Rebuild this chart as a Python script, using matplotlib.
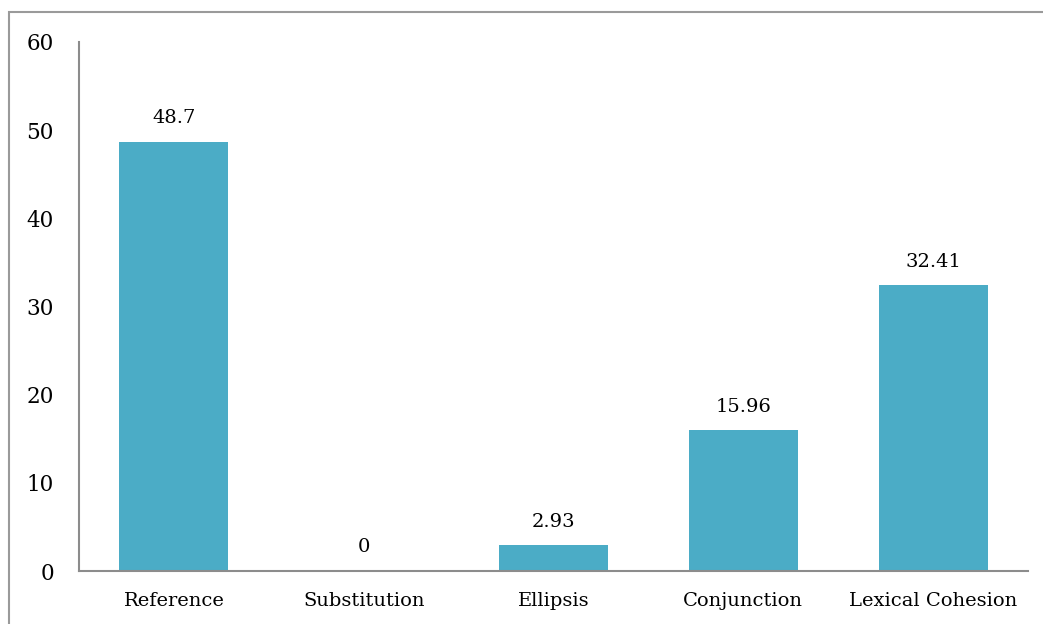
import matplotlib
matplotlib.use("Agg")
import matplotlib.pyplot as plt
from matplotlib.patches import Rectangle

categories = ["Reference", "Substitution", "Ellipsis", "Conjunction", "Lexical Cohesion"]
values = [48.7, 0, 2.93, 15.96, 32.41]
value_labels = ["48.7", "0", "2.93", "15.96", "32.41"]
yticks = [0, 10, 20, 30, 40, 50, 60]

W, H = 1043, 624
fig = plt.figure(figsize=(W / 100, H / 100), dpi=100)
plt.rcParams['font.family'] = ['DejaVu Serif']

# outer frame
fig.patches.append(Rectangle((9 / W, -0.1), 1.2, (H - 12) / H + 0.1, transform=fig.transFigure,
                             fill=False, edgecolor="#9a9a9a", linewidth=1.5))

ax = fig.add_axes([79 / W, (H - 571) / H, (1028 - 79) / W, (571 - 42) / H])
x = range(len(categories))
ax.bar(x, values, width=0.575, color="#4BACC6")
ax.set_xlim(-0.5, len(categories) - 0.5)
ax.set_ylim(0, 60)
ax.set_yticks(yticks)
ax.set_xticks(list(x))
ax.set_xticklabels(categories)
for s in ["top", "right"]:
    ax.spines[s].set_visible(False)
for s in ["left", "bottom"]:
    ax.spines[s].set_color("#8c8c8c")
    ax.spines[s].set_linewidth(1.5)
ax.tick_params(axis="y", length=0, pad=18, labelsize=15.5)
ax.tick_params(axis="x", length=0, pad=15, labelsize=14)
for xi, v, lab in zip(x, values, value_labels):
    ax.annotate(lab, (xi, v), xytext=(0, 10.5), textcoords="offset points",
                ha="center", va="bottom", fontsize=14)

fig.savefig("out.png", dpi=100)
